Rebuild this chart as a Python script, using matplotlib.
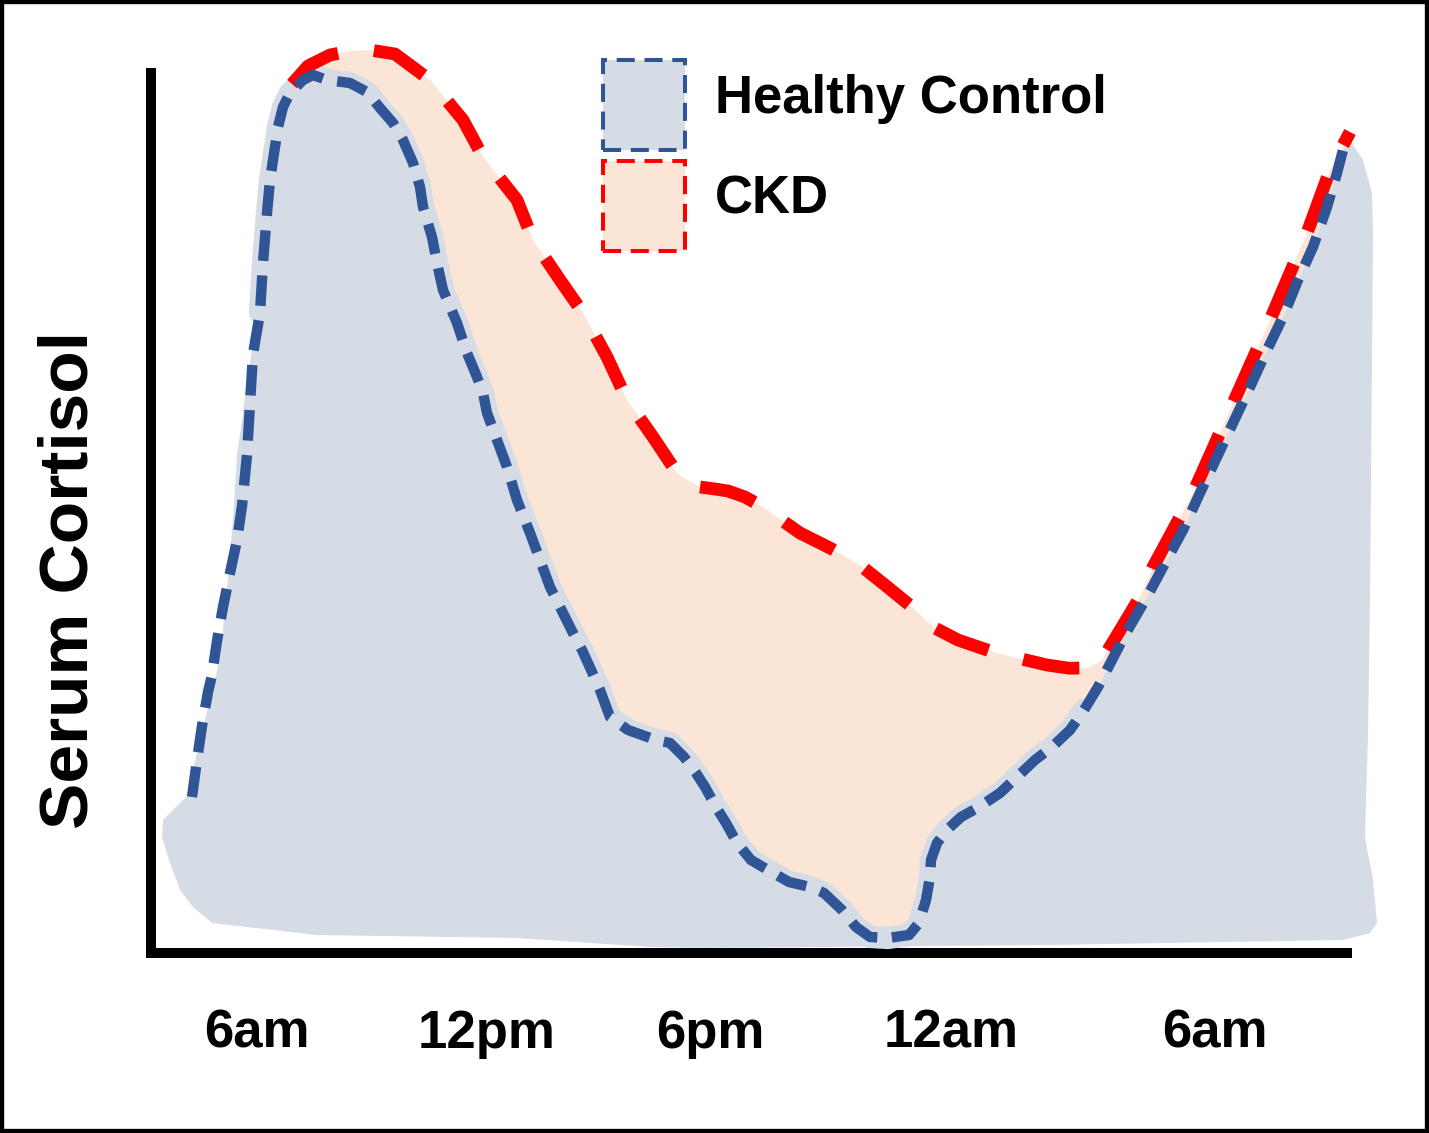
import numpy as np
import matplotlib.pyplot as plt
from matplotlib.patches import Patch, Rectangle
from matplotlib.legend_handler import HandlerPatch

plt.rcParams['font.family'] = ['Liberation Sans', 'DejaVu Sans']
plt.rcParams['font.weight'] = 'bold'
plt.rcParams['lines.scale_dashes'] = False

# time in hours (6 = 6am, 30 = 6am next day), serum cortisol in arbitrary units
healthy_t = [4.375, 4.5, 4.625, 4.775, 4.875, 5.0, 5.15, 5.325, 5.5, 5.625, 5.75, 5.825,
             5.9, 6.075, 6.15, 6.25, 6.325, 6.45, 6.525, 6.65, 6.825, 7.15, 7.4, 7.75,
             8.325, 8.75, 9.075, 9.4, 9.65, 9.9, 10.075, 10.15, 10.375, 10.5, 10.65, 11.0,
             11.25, 11.5, 11.65, 11.75, 12.0, 12.25, 12.5, 12.825, 13.075, 13.325, 13.65,
             13.9, 14.125, 14.375, 14.575, 14.825, 15.275, 15.975, 16.325, 16.675, 16.975,
             17.2, 17.475, 17.725, 18.0, 18.35, 18.775, 19.3, 19.825, 20.175, 20.625,
             20.975, 21.325, 21.775, 22.3, 22.55, 22.725, 22.825, 22.85, 23.0, 23.25,
             23.6, 24.05, 24.575, 25.0, 25.45, 25.875, 26.325, 26.675, 27.025, 27.375,
             27.725, 28.25, 28.65, 29.15, 29.575, 30.0, 30.4, 30.825, 31.25, 31.65,
             32.025, 32.4, 32.75, 33.0, 33.15]
healthy_c = [3.9, 4.825, 5.675, 6.525, 6.95, 7.8, 8.65, 9.5, 10.325, 11.175, 12.45, 13.725,
             14.975, 16.0, 17.25, 18.5, 19.325, 20.15, 20.65, 21.15, 21.5, 21.825, 21.95,
             21.825, 21.75, 21.525, 21.125, 20.75, 20.325, 19.75, 19.15, 18.65, 17.9, 17.25,
             16.575, 15.75, 15.0, 14.4, 14.0, 13.5, 12.825, 12.15, 11.325, 10.5, 9.825,
             9.15, 8.5, 8.0, 7.575, 7.025, 6.575, 5.9, 5.575, 5.325, 5.25, 4.9, 4.5, 4.15,
             3.65, 3.25, 2.75, 2.325, 2.075, 1.775, 1.65, 1.5, 1.075, 0.65, 0.4, 0.375,
             0.45, 0.75, 1.325, 1.9, 2.325, 2.75, 3.075, 3.4, 3.65, 4.0, 4.4, 4.825, 5.15,
             5.575, 6.075, 6.65, 7.325, 8.0, 8.9, 9.65, 10.575, 11.5, 12.4, 13.25, 14.15,
             15.075, 15.9, 16.825, 17.65, 18.65, 19.5, 20.075]

ckd_t = [6.875, 7.275, 7.825, 8.325, 8.825, 9.45, 10.325, 11.15, 11.65, 12.5, 12.9, 13.575,
         14.15, 14.75, 15.25, 15.9, 16.5, 16.8, 17.075, 17.45, 17.775, 18.2, 18.65, 19.575,
         20.325, 21.075, 21.7, 22.375, 22.9, 23.525, 24.475, 25.75, 26.3, 26.775, 27.125,
         27.475, 28.075, 28.4, 29.4, 30.325, 31.25, 32.25, 32.825, 33.325]
ckd_c = [21.725, 22.175, 22.45, 22.55, 22.575, 22.475, 21.825, 20.825, 19.9, 18.825, 17.825,
         16.825, 16.0, 14.9, 13.825, 12.9, 12.0, 11.8, 11.65, 11.6, 11.55, 11.4, 11.15,
         10.5, 10.125, 9.7, 9.2, 8.65, 8.15, 7.825, 7.5, 7.2, 7.12, 7.125, 7.325, 7.9,
         8.9, 9.65, 11.5, 13.575, 15.65, 18.0, 19.575, 20.525]

# rest of the outline of the shaded healthy area (right edge, bottom, left edge)
healthy_area_t = [33.325, 33.65, 33.875, 33.9, 33.875, 33.825, 33.775, 33.7, 33.9, 34.0,
                  33.825, 33.15, 25.825, 17.2, 15.825, 12.5, 7.5, 4.875, 4.4, 4.075,
                  3.825, 3.625, 3.65, 4.25, 4.575, 4.825, 5.075, 5.2, 5.325, 5.425, 5.5,
                  5.625, 5.725, 5.875]
healthy_area_c = [20.325, 19.825, 19.0, 18.0, 14.65, 8.825, 5.425, 2.875, 1.85, 0.75,
                  0.5, 0.325, 0.2, 0.125, 0.15, 0.375, 0.45, 0.75, 1.15, 1.575, 2.25,
                  2.9, 3.325, 3.925, 5.325, 6.325, 7.375, 8.575, 9.925, 11.2, 12.45,
                  13.325, 14.125, 15.075]

tick_hours = [6, 11.75, 17.33, 23.35, 29.95]
tick_labels = ['6am', '12pm', '6pm', '12am', '6am']

grey = '#d6dce5'
peach = '#fbe5d6'
blue = '#2f5597'
red = '#ff0000'

bt = np.array(healthy_t)
bc = np.array(healthy_c)
rt = np.array(ckd_t)
rc = np.array(ckd_c)

fig = plt.figure(figsize=(14.29, 11.33), dpi=100)
ax = fig.add_axes([0, 0, 1, 1])
ax.set_xlim(-0.425, 35.3)
ax.set_ylim(-4.5, 23.825)

# CKD area between the two curves
m = (bt >= rt[0] - 0.1) & (bt <= rt[-1])
ax.fill(np.r_[rt, bt[m][::-1]], np.r_[rc, bc[m][::-1]], color=peach, lw=0, zorder=1)

# healthy area under the blue curve (its left flank sits a bit inside the line)
top = bt >= 6.0
ax.fill(np.r_[bt[top], healthy_area_t], np.r_[bc[top], healthy_area_c], color=grey,
        lw=0, zorder=2)
h = (bt >= 6.0) & (bt <= 27.0)
ax.plot(bt[h], bc[h], color=grey, lw=16, solid_capstyle='round',
        solid_joinstyle='round', zorder=3)

ax.plot(rt, rc, color=red, lw=9.2, linestyle=(0, (41, 26)), dash_joinstyle='round', zorder=4)
ax.plot(bt, bc, color=blue, lw=7.5, linestyle=(0, (22, 10.5)), dash_joinstyle='round', zorder=5)

# axes
ax.spines['top'].set_visible(False)
ax.spines['right'].set_visible(False)
ax.spines['left'].set_position(('data', 3.35))
ax.spines['bottom'].set_position(('data', 0))
ax.spines['left'].set_bounds(0, 22.0)
ax.spines['bottom'].set_bounds(3.35, 33.25)
for s in ['left', 'bottom']:
    ax.spines[s].set_linewidth(7.2)
    ax.spines[s].set_color('black')
ax.set_yticks([])
ax.set_xticks(tick_hours, tick_labels)
ax.tick_params(axis='x', length=0, pad=40, labelsize=38)
ax.patch.set_visible(False)

fig.text(88 / 1429, 1 - 580 / 1133, 'Serum Cortisol', rotation=90, rotation_mode='anchor',
         ha='center', va='baseline', fontsize=50, fontweight='bold')


def tall_box(legend, orig_handle, xdescent, ydescent, width, height, fontsize):
    # legend swatch taller than the text line, as in the original figure
    return Rectangle((-xdescent, -26.6), width, 64.8)


handles = [Patch(facecolor=grey, edgecolor=blue, linestyle=(0, (13, 7)), linewidth=2.9),
           Patch(facecolor=peach, edgecolor=red, linestyle=(0, (13, 7)), linewidth=2.9)]
ax.legend(handles, ['Healthy Control', 'CKD'], loc='upper left',
          bbox_to_anchor=(603 / 1429, 1 - 60 / 1133), bbox_transform=fig.transFigure,
          frameon=False, fontsize=38, handlelength=1.55, handleheight=1.7,
          handletextpad=0.57, labelspacing=0.56, borderpad=0, borderaxespad=0,
          handler_map={Patch: HandlerPatch(patch_func=tall_box)})

fig.add_artist(Rectangle((0, 0), 1, 1, transform=fig.transFigure, fill=False,
                         edgecolor='black', lw=6))

fig.savefig('out.png', dpi=100)
